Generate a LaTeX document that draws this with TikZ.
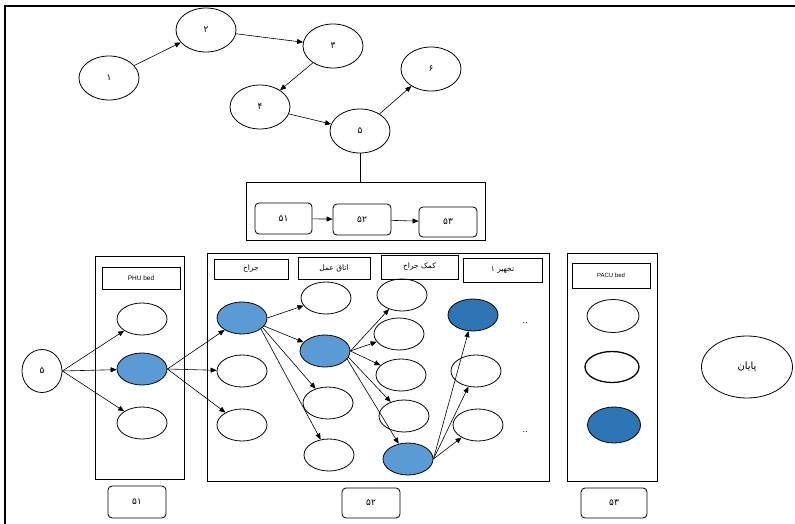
\documentclass[tikz,border=0pt]{standalone}
\usepackage{fontspec}
\setmainfont{Liberation Sans}
\newfontfamily\fa[Script=Arabic]{DejaVu Sans}
\TeXXeTstate=1
\usetikzlibrary{shapes.geometric,arrows.meta}
\definecolor{lblue}{RGB}{91,155,213}
\definecolor{dblue}{RGB}{46,117,182}
\begin{document}
\begin{tikzpicture}[x=1pt,y=-1pt,
  bigell/.style={ellipse,draw,line width=0.8pt,inner sep=0pt,minimum width=60pt,minimum height=44pt,font=\fa\fontsize{9}{10}\selectfont},
  sell/.style={ellipse,draw,line width=0.8pt,inner sep=0pt,minimum width=50pt,minimum height=32pt},
  lb/.style={sell,fill=lblue},
  db/.style={sell,fill=dblue},
  cbox/.style={draw,line width=0.8pt,inner sep=0pt},
  hbox/.style={draw,line width=0.8pt,inner sep=0pt,font=\fa\fontsize{7.5}{8}\selectfont},
  rbox/.style={draw,line width=0.8pt,inner sep=0pt,rounded corners=4pt,font=\fa\fontsize{9}{10}\selectfont},
  arr/.style={-{Triangle[length=6pt,width=5pt]},line width=0.6pt},
  dots/.style={font=\fontsize{9}{9}\selectfont,inner sep=0pt}
]
\useasboundingbox (0,0) rectangle (795,524);
\draw[line width=1.8pt] (5,524) -- (5,6) -- (795,6);

% top graph
\node[bigell] (n1) at (109,78) {۱};
\node[bigell] (n2) at (206,30) {۲};
\node[bigell] (n3) at (333,46) {۳};
\node[bigell] (n4) at (260,107) {۴};
\node[bigell] (n5) at (360,131) {۵};
\node[bigell] (n6) at (431,69) {۶};
\draw[arr] (n1) -- (n2);
\draw[arr] (n2) -- (n3);
\draw[arr] (n3) -- (n4);
\draw[arr] (n4) -- (n5);
\draw[arr] (n5) -- (n6);

\node[cbox,minimum width=239pt,minimum height=58pt] (top) at (365.5,211) {};
\draw[line width=0.8pt] (n5.south) -- (top.north -| n5.south);
\node[rbox,minimum width=57pt,minimum height=31pt] (t51) at (283.5,218.5) {۵۱};
\node[rbox,minimum width=58pt,minimum height=31pt] (t52) at (362,219.5) {۵۲};
\node[rbox,minimum width=58pt,minimum height=30pt] (t53) at (448,222) {۵۳};
\draw[arr] (t51) -- (t52);
\draw[arr] (t52) -- (t53);

% bottom containers
\node[cbox,minimum width=89pt,minimum height=223pt] (phu) at (139.5,367.5) {};
\node[cbox,minimum width=78pt,minimum height=22pt,font=\fontsize{6.5}{7}\selectfont] (phul) at (141,278) {PHU bed};
\node[cbox,minimum width=342pt,minimum height=228pt] (mid) at (378,367) {};
\node[hbox,minimum width=74pt,minimum height=20pt] (h1) at (251,269) {\beginR جراح\endR};
\node[hbox,minimum width=72pt,minimum height=22pt] (h2) at (334,268) {\beginR اتاق عمل\endR};
\node[hbox,minimum width=77pt,minimum height=24pt] (h3) at (419.5,267) {\beginR کمک جراح\endR};
\node[hbox,minimum width=79pt,minimum height=24pt] (h4) at (502.5,270) {\beginR تجهیز ۱\endR};
\node[cbox,minimum width=90pt,minimum height=228pt] (pacu) at (612,367) {};
\node[cbox,minimum width=78pt,minimum height=25pt,font=\fontsize{6}{7}\selectfont] (pacul) at (611,275.5) {PACU bed};

\node[rbox,minimum width=58pt,minimum height=32pt] (b51) at (137,502) {۵۱};
\node[rbox,minimum width=58pt,minimum height=30pt] (b52) at (371,503) {۵۲};
\node[rbox,minimum width=66pt,minimum height=30pt] (b53) at (614,503) {۵۳};

% nodes
\node[ellipse,draw,line width=0.8pt,inner sep=0pt,minimum width=40pt,minimum height=43pt,font=\fa\fontsize{9}{10}\selectfont] (s5) at (42,371) {۵};
\node[sell] (p1) at (142,319) {};
\node[lb] (p2) at (142,369) {};
\node[sell] (p3) at (142,423) {};
\node[lb] (c1a) at (242,318) {};
\node[sell] (c1b) at (242,371) {};
\node[sell] (c1c) at (242,425) {};
\node[sell] (c2a) at (326,298) {};
\node[lb] (c2b) at (325,351) {};
\node[sell] (c2c) at (328,403) {};
\node[sell] (c2d) at (329,455) {};
\node[sell] (c3a) at (402,295) {};
\node[sell] (c3b) at (399,334) {};
\node[sell] (c3c) at (401,375) {};
\node[sell] (c3d) at (404,416) {};
\node[lb] (c3e) at (408,459) {};
\node[db] (c4a) at (473,315) {};
\node[sell] (c4b) at (476,371) {};
\node[sell] (c4c) at (478,425) {};
\node[dots] (d1) at (525,323) {..};
\node[dots] (d2) at (525,432) {..};
\node[sell,minimum width=52pt,minimum height=33pt] (q1) at (613,316) {};
\node[sell,minimum width=54pt,minimum height=31pt,line width=1.3pt] (q2) at (612,367) {};
\node[db,minimum width=53pt,minimum height=36pt] (q3) at (614,425) {};
\node[ellipse,draw,line width=0.8pt,inner sep=0pt,minimum width=91pt,minimum height=62pt,font=\fa\fontsize{10}{11}\selectfont] (fin) at (747,367) {\beginR پایان\endR};

% connectors
\draw[arr] (s5.east) -- (p1);
\draw[arr] (s5.east) -- (p2);
\draw[arr] (s5.east) -- (p3);
\draw[arr] (p2.east) -- (c1a);
\draw[arr] (p2.east) -- (c1b);
\draw[arr] (p2.east) -- (c1c);
\draw[arr] (c1a.east) -- (c2a);
\draw[arr] (c1a.-20) -- (c2b);
\draw[arr] (c1a.-25) -- (c2c);
\draw[arr] (c1a.-30) -- (c2d);
\draw[arr] (c2b.east) -- (c3a);
\draw[arr] (c2b.east) -- (c3b);
\draw[arr] (c2b.east) -- (c3c);
\draw[arr] (c2b.-15) -- (c3d);
\draw[arr] (c2b.-20) -- (c3e);
\draw[arr] (c3e.east) -- (c4a);
\draw[arr] (c3e.east) -- (c4b);
\draw[arr] (c3e.east) -- (c4c);
\end{tikzpicture}
\end{document}
